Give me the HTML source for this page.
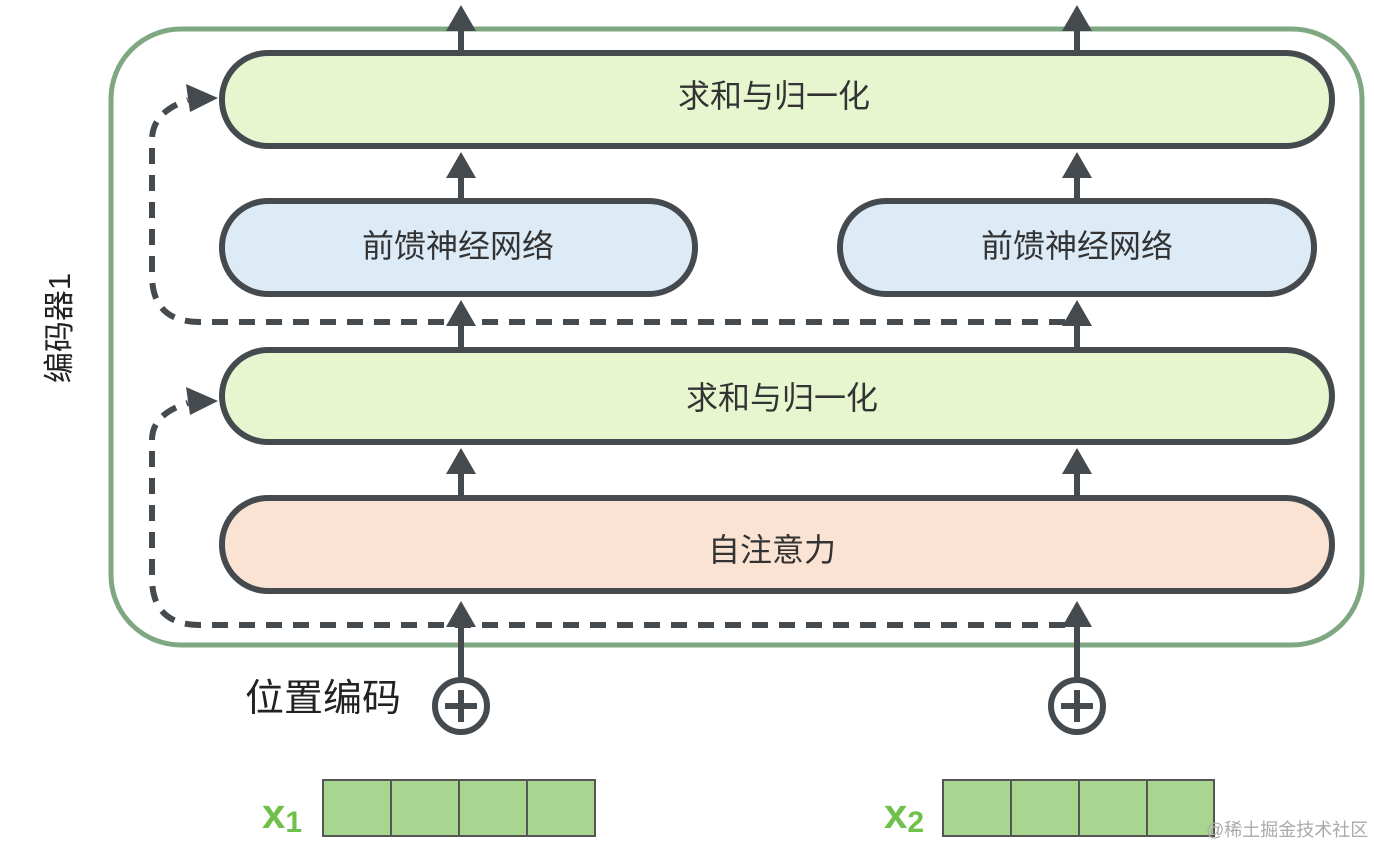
<!DOCTYPE html>
<html><head><meta charset="utf-8"><style>
html,body{margin:0;padding:0;background:#fff;}
svg{display:block}
text{font-family:"Liberation Sans","Noto Sans CJK SC",sans-serif;}
</style></head><body>
<svg width="1374" height="846" viewBox="0 0 1374 846" xmlns="http://www.w3.org/2000/svg">
<rect x="111" y="29" width="1251" height="616" rx="70" fill="none" stroke="#7fa882" stroke-width="5"/>
<g stroke="#454a4f" stroke-width="6">
<rect x="222" y="53" width="1110" height="93" rx="46" fill="#e8f6d0"/>
<rect x="222" y="201" width="473" height="93" rx="46" fill="#ddebf7"/>
<rect x="840" y="201" width="474" height="93" rx="46" fill="#ddebf7"/>
<rect x="222" y="350" width="1110" height="92" rx="46" fill="#e8f6d0"/>
<rect x="222" y="498" width="1110" height="93" rx="46" fill="#fbe3d3"/>
</g>
<g font-size="32" fill="#333" text-anchor="middle">
<text x="774" y="107">求和与归一化</text>
<text x="458" y="257">前馈神经网络</text>
<text x="1077" y="257">前馈神经网络</text>
<text x="782" y="409">求和与归一化</text>
<text x="772" y="561">自注意力</text>
</g>
<g fill="none" stroke="#454a4f" stroke-width="6" stroke-dasharray="16,11">
<path d="M1065,322 L200,322 Q152,322 152,275 L152,140 Q152,112 188,100"/>
<path d="M1065,625 L200,625 Q152,625 152,578 L152,440 Q152,414 188,403"/>
</g>
<g fill="#454a4f">
<polygon points="218,98 186,84 190,112"/>
<polygon points="218,401 186,387 190,415"/>
</g>
<g stroke="#454a4f" stroke-width="6">
<line x1="461" y1="53" x2="461" y2="25"/><line x1="1077" y1="53" x2="1077" y2="25"/>
<line x1="461" y1="201" x2="461" y2="175"/><line x1="1077" y1="201" x2="1077" y2="175"/>
<line x1="461" y1="350" x2="461" y2="325"/><line x1="1077" y1="350" x2="1077" y2="325"/>
<line x1="461" y1="498" x2="461" y2="473"/><line x1="1077" y1="498" x2="1077" y2="473"/>
<line x1="461" y1="680" x2="461" y2="625"/><line x1="1077" y1="680" x2="1077" y2="625"/>
</g>
<g fill="#454a4f">
<polygon points="461,5 446,31 476,31"/><polygon points="1077,5 1062,31 1092,31"/>
<polygon points="461,152 446,178 476,178"/><polygon points="1077,152 1062,178 1092,178"/>
<polygon points="461,300 446,326 476,326"/><polygon points="1077,300 1062,326 1092,326"/>
<polygon points="461,448 446,474 476,474"/><polygon points="1077,448 1062,474 1092,474"/>
<polygon points="461,601 446,627 476,627"/><polygon points="1077,601 1062,627 1092,627"/>
</g>
<g fill="#fff" stroke="#454a4f" stroke-width="6">
<circle cx="461" cy="706" r="26"/><circle cx="1077" cy="706" r="26"/>
</g>
<g stroke="#454a4f" stroke-width="6">
<line x1="445" y1="706" x2="477" y2="706"/><line x1="461" y1="690" x2="461" y2="722"/>
<line x1="1061" y1="706" x2="1093" y2="706"/><line x1="1077" y1="690" x2="1077" y2="722"/>
</g>
<text x="245" y="711" font-size="38" fill="#222" textLength="156" lengthAdjust="spacingAndGlyphs">位置编码</text>
<text transform="translate(70,328) rotate(-90)" font-size="31" fill="#222" text-anchor="middle">编码器1</text>
<g fill="#a8d58f" stroke="#555" stroke-width="2">
<rect x="323" y="780" width="68" height="56"/><rect x="391" y="780" width="68" height="56"/>
<rect x="459" y="780" width="68" height="56"/><rect x="527" y="780" width="68" height="56"/>
<rect x="943" y="780" width="68" height="56"/><rect x="1011" y="780" width="68" height="56"/>
<rect x="1079" y="780" width="68" height="56"/><rect x="1147" y="780" width="67" height="56"/>
</g>
<g fill="#72c04c" font-weight="bold">
<text x="262" y="828" font-size="42">x<tspan font-size="30" dy="4">1</tspan></text>
<text x="884" y="828" font-size="42">x<tspan font-size="30" dy="4">2</tspan></text>
</g>
<text x="1206" y="836" font-size="18" fill="#aaa">@稀土掘金技术社区</text>
</svg>
</body></html>
